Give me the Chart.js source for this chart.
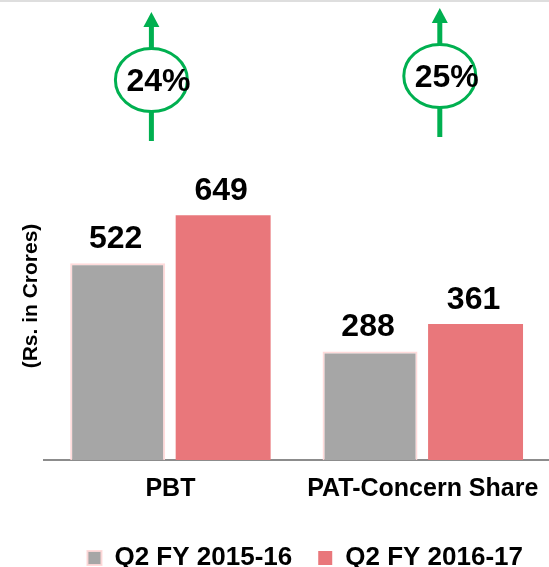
<!DOCTYPE html>
<html>
<head>
<meta charset="utf-8">
<script src="https://cdn.jsdelivr.net/npm/chart.js@4.4.1/dist/chart.umd.min.js"></script>
<style>
  html, body { margin: 0; padding: 0; background: #fff; }
  #wrap { position: relative; width: 549px; height: 567px; }
</style>
</head>
<body>
<div id="wrap"><canvas id="chart"></canvas></div>
<script>
// data
const categories = ['PBT', 'PAT-Concern Share'];
const seriesLabels = ['Q2 FY 2015-16', 'Q2 FY 2016-17'];
const values2015 = [522, 288];
const values2016 = [649, 361];
const yAxisTitle = '(Rs. in Crores)';

const FONT = "'Liberation Sans', Arial, sans-serif";
const GREEN = '#00b050';

Chart.defaults.font.family = FONT;
Chart.defaults.color = '#000';

// arrow badges, one per category: horizontal shift from category center and ellipse center y
const badgeLayout = [
  { dx: -19, cy: 80 },
  { dx: 17, cy: 76 }
];

// value labels above every bar
const valueLabels = {
  id: 'valueLabels',
  afterDatasetsDraw(chart) {
    const ctx = chart.ctx;
    ctx.save();
    ctx.font = 'bold 32px ' + FONT;
    ctx.fillStyle = '#000';
    ctx.textAlign = 'center';
    ctx.textBaseline = 'alphabetic';
    chart.data.datasets.forEach((ds, i) => {
      chart.getDatasetMeta(i).data.forEach((bar, j) => {
        ctx.fillText(String(ds.data[j]), bar.x - 2, bar.y - 15);
      });
    });
    ctx.restore();
  }
};

// green up-arrows with growth percentage, plus the thin line on top of the slide
const growthBadges = {
  id: 'growthBadges',
  afterDraw(chart) {
    const ctx = chart.ctx;
    const xScale = chart.scales.x;
    ctx.save();
    ctx.fillStyle = '#dedede';
    ctx.fillRect(0, 0, chart.width, 2);

    categories.forEach((c, i) => {
      const growth = Math.round((values2016[i] - values2015[i]) / values2015[i] * 100);
      const x = xScale.getPixelForValue(i) + badgeLayout[i].dx;
      const cy = badgeLayout[i].cy;

      // shaft
      ctx.strokeStyle = GREEN;
      ctx.lineWidth = 5;
      ctx.beginPath();
      ctx.moveTo(x, cy - 54);
      ctx.lineTo(x, cy + 61);
      ctx.stroke();

      // head
      ctx.fillStyle = GREEN;
      ctx.beginPath();
      ctx.moveTo(x, cy - 68);
      ctx.lineTo(x - 8, cy - 53);
      ctx.lineTo(x + 8, cy - 53);
      ctx.closePath();
      ctx.fill();

      // circle
      ctx.fillStyle = '#fff';
      ctx.lineWidth = 3;
      ctx.beginPath();
      ctx.ellipse(x, cy, 36, 31.5, 0, 0, Math.PI * 2);
      ctx.fill();
      ctx.stroke();

      ctx.fillStyle = '#000';
      ctx.font = 'bold 32px ' + FONT;
      ctx.textAlign = 'center';
      ctx.textBaseline = 'middle';
      ctx.fillText(growth + '%', x + 7, cy + 2);
    });
    ctx.restore();
  }
};

new Chart(document.getElementById('chart'), {
  type: 'bar',
  data: {
    labels: categories,
    datasets: [
      {
        label: seriesLabels[0],
        data: values2015,
        backgroundColor: '#a6a6a6',
        borderColor: 'rgba(255, 215, 215, 0.9)',
        borderWidth: 2,
        categoryPercentage: 0.836,
        barPercentage: 0.9
      },
      {
        label: seriesLabels[1],
        data: values2016,
        backgroundColor: '#e9777b',
        borderWidth: 0,
        categoryPercentage: 0.836,
        barPercentage: 0.9
      }
    ]
  },
  options: {
    responsive: true,
    maintainAspectRatio: false,
    animation: false,
    layout: {
      padding: { top: 132, left: 19, right: 0, bottom: -14 }
    },
    plugins: {
      tooltip: { enabled: false },
      legend: {
        position: 'bottom',
        align: 'end',
        fullSize: false,
        labels: {
          font: { size: 26, weight: 'bold' },
          boxWidth: 14,
          boxHeight: 14,
          padding: 26,
          color: '#000'
        }
      }
    },
    scales: {
      x: {
        grid: { display: false, drawTicks: false },
        border: { display: true, color: '#8c8c8c', width: 2 },
        ticks: {
          font: { size: 25, weight: 'bold', lineHeight: 1 },
          padding: 17,
          color: '#000'
        },
        // wide last label should not shrink the plot
        afterFit: (scale) => {
          scale.paddingLeft = 0;
          scale.paddingRight = 0;
        }
      },
      y: {
        min: 0,
        max: 870,
        grid: { display: false, drawTicks: false },
        border: { display: false },
        ticks: { display: false },
        title: {
          display: true,
          text: yAxisTitle,
          padding: 0,
          color: '#000',
          font: { size: 21, weight: 'bold' }
        }
      }
    }
  },
  plugins: [valueLabels, growthBadges]
});
</script>
</body>
</html>
